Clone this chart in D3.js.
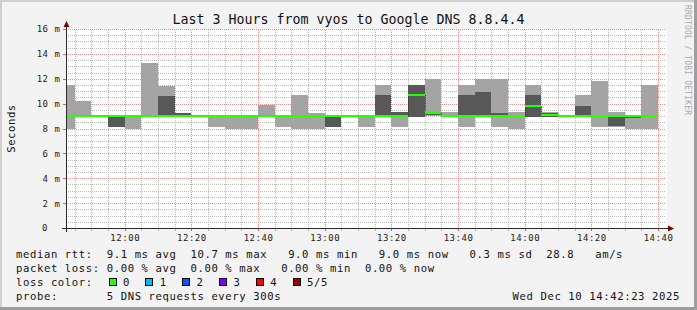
<!DOCTYPE html>
<html>
<head>
<meta charset="utf-8">
<script src="https://cdn.jsdelivr.net/npm/d3@7"></script>
<style>
  html, body { margin: 0; padding: 0; background: #f3f3f3; }
  svg { display: block; }
  text { font-family: "DejaVu Sans Mono", monospace; white-space: pre; }
</style>
</head>
<body>
<svg id="chart" width="697" height="310"></svg>
<script>
// 5 minute slots, labelled by end time (Dec 10 2025)
const slotEnds = ["11:45","11:50","11:55","12:00","12:05","12:10","12:15","12:20","12:25","12:30","12:35","12:40",
  "12:45","12:50","12:55","13:00","13:05","13:10","13:15","13:20","13:25","13:30","13:35","13:40",
  "13:45","13:50","13:55","14:00","14:05","14:10","14:15","14:20","14:25","14:30","14:35","14:40"];

// sorted ping rtt per slot, in ms
const rttMin    = [8.0, 9.0, 9.0, 8.15, 8.0, 9.0, 9.0, 9.0, 9.0, 8.15, 8.0, 8.0,
  9.0, 8.15, 8.0, 8.0, 8.15, 9.0, 8.15, 9.0, 8.15, 8.9, 9.0, 9.0,
  8.15, 9.0, 8.15, 8.0, 8.9, 8.95, 9.0, 9.0, 8.15, 8.15, 8.0, 8.0];
const rtt2      = [9.0, 9.0, 9.0, 8.15, 9.0, 9.0, 9.0, 9.0, 9.0, 9.0, 9.0, 9.0,
  9.0, 9.0, 9.0, 9.0, 8.15, 9.0, 9.0, 9.0, 9.0, 8.95, 9.05, 9.0,
  9.0, 9.0, 9.0, 9.0, 8.95, 8.95, 9.0, 9.0, 9.0, 8.2, 8.85, 9.0];
const rttMedian = [9.0, 9.0, 9.0, 9.0, 9.0, 9.0, 9.0, 9.0, 9.0, 9.0, 9.0, 9.0,
  9.0, 9.0, 9.0, 9.0, 9.0, 9.0, 9.0, 9.0, 9.0, 10.7, 9.3, 9.0,
  9.0, 9.0, 9.0, 9.0, 9.8, 9.1, 9.0, 9.0, 9.0, 9.0, 9.0, 9.0];
const rtt4      = [9.05, 9.05, 9.0, 9.0, 9.0, 9.0, 10.65, 9.25, 9.0, 9.0, 9.0, 9.0,
  9.0, 9.0, 9.0, 9.0, 9.05, 9.0, 9.0, 10.7, 9.3, 11.5, 9.35, 9.0,
  10.7, 10.9, 9.25, 9.0, 10.7, 9.25, 9.0, 9.8, 9.1, 9.05, 9.0, 9.0];
const rttMax    = [11.5, 10.25, 9.1, 9.0, 9.0, 13.3, 11.45, 9.25, 9.0, 9.0, 9.0, 9.0,
  9.85, 9.1, 10.7, 9.25, 9.05, 9.0, 9.0, 11.5, 9.35, 11.5, 12.0, 9.35,
  11.5, 12.0, 12.0, 9.3, 11.5, 9.3, 9.0, 10.7, 11.8, 9.3, 9.0, 11.5];

const yTicks = [0, 2, 4, 6, 8, 10, 12, 14, 16];
const yTickLabels = ["0", "2 m", "4 m", "6 m", "8 m", "10 m", "12 m", "14 m", "16 m"];
const xTickLabels = ["12:00","12:20","12:40","13:00","13:20","13:40","14:00","14:20","14:40"];

const title = "Last 3 Hours from vyos to Google DNS 8.8.4.4";
const legendLines = [
  "median rtt:  9.1 ms avg  10.7 ms max   9.0 ms min   9.0 ms now   0.3 ms sd  28.8   am/s",
  "packet loss: 0.00 % avg  0.00 % max   0.00 % min  0.00 % now",
  "loss color:",
  "probe:       5 DNS requests every 300s"
];
const lossLabels = ["0", "1", "2", "3", "4", "5/5"];
const lossColors = ["#26ff00", "#00b8ff", "#0059ff", "#7e00ff", "#ff0000", "#a00000"];
const stamp = "Wed Dec 10 14:42:23 2025";

const parse = d3.timeParse("%Y-%m-%d %H:%M:%S");
const day = "2025-12-10 ";
const tStart = parse(day + "11:42:23"), tEnd = parse(day + "14:42:23");

const L = 66, R = 666, T = 29, B = 228;
const x = d3.scaleTime().domain([tStart, tEnd]).range([L, R]);
const y = d3.scaleLinear().domain([0, 16]).range([B, T]);

const svg = d3.select("#chart");
const defs = svg.append("defs");

// frame
svg.append("rect").attr("width", 697).attr("height", 310).attr("fill", "#f3f3f3");
svg.append("rect").attr("width", 697).attr("height", 2).attr("fill", "#cfcfcf");
svg.append("rect").attr("width", 2).attr("height", 310).attr("fill", "#cfcfcf");
svg.append("rect").attr("x", 694).attr("width", 3).attr("height", 310).attr("fill", "#9e9e9e");
svg.append("rect").attr("y", 307).attr("width", 697).attr("height", 3).attr("fill", "#9e9e9e");
svg.append("rect").attr("x", L).attr("y", T).attr("width", R - L + 1).attr("height", B - T).attr("fill", "#fff");

defs.append("clipPath").attr("id", "plotclip")
  .append("rect").attr("x", L).attr("y", T - 1).attr("width", R - L).attr("height", B - T + 1);

// dotted patterns (one pixel on, one off) for the grid
function dots(id, col, horiz) {
  const p = defs.append("pattern").attr("id", id).attr("patternUnits", "userSpaceOnUse")
    .attr("width", horiz ? 2 : 1).attr("height", horiz ? 1 : 2);
  p.append("rect").attr("width", 1).attr("height", 1).attr("fill", col);
}
const minorCol = "#bcbcbc", majorCol = "#f09090";
dots("minH", minorCol, true); dots("minV", minorCol, false);
dots("majH", majorCol, true); dots("majV", majorCol, false);

const minorT = d3.timeMinute.every(5).range(tStart, tEnd);
const majorT = minorT.filter(d => d.getMinutes() % 20 === 0);
const minorV = d3.range(0, 16.01, 0.5).filter(v => v % 2 !== 0);

const grid = svg.append("g").attr("class", "grid").attr("shape-rendering", "crispEdges");
function vgrid(cls, data, fill) {
  grid.selectAll("rect." + cls).data(data).join("rect").attr("class", cls)
    .attr("x", d => Math.round(x(d))).attr("width", 1)
    .attr("y", T).attr("height", B - T).attr("fill", fill);
}
function hgrid(cls, data, fill) {
  grid.selectAll("rect." + cls).data(data).join("rect").attr("class", cls)
    .attr("y", d => Math.round(y(d))).attr("height", 1)
    .attr("x", L).attr("width", R - L - 1).attr("fill", fill);
}
vgrid("minorx", minorT.filter(d => d.getMinutes() % 20 !== 0), "url(#minV)");
hgrid("minory", minorV, "url(#minH)");
vgrid("majorx", majorT, "url(#majV)");
hgrid("majory", yTicks.filter(v => v > 0), "url(#majH)");

// smoke
const slots = slotEnds.map((s, i) => {
  const end = parse(day + s + ":00");
  return { start: d3.timeMinute.offset(end, -5), end,
    min: rttMin[i], p2: rtt2[i], med: rttMedian[i], p4: rtt4[i], max: rttMax[i] };
});

const plot = svg.append("g").attr("clip-path", "url(#plotclip)");
const px = d => Math.round(x(d));

plot.append("g").attr("shape-rendering", "crispEdges").selectAll("rect").data(slots).join("rect")
  .attr("x", d => px(d.start)).attr("width", d => px(d.end) - px(d.start))
  .attr("y", d => y(d.max)).attr("height", d => y(d.min) - y(d.max))
  .attr("fill", "#a4a4a4");
plot.append("g").attr("shape-rendering", "crispEdges").selectAll("rect").data(slots).join("rect")
  .attr("x", d => px(d.start)).attr("width", d => px(d.end) - px(d.start))
  .attr("y", d => y(d.p4)).attr("height", d => y(d.p2) - y(d.p4))
  .attr("fill", "#585858");

// median: thin dark step line, then loss-coloured band
const medLine = d3.line().x(d => px(d[0]) + 0.5).y(d => y(d[1]));
plot.append("path")
  .datum(slots.flatMap(d => [[d.start, d.med], [d.end, d.med]]))
  .attr("d", medLine).attr("fill", "none")
  .attr("stroke", "#303030").attr("stroke-width", 1).attr("stroke-dasharray", "1,1");
plot.append("g").attr("shape-rendering", "crispEdges").selectAll("rect").data(slots).join("rect")
  .attr("x", d => px(d.start)).attr("width", d => px(d.end) - px(d.start))
  .attr("y", d => y(d.med) - 1.3).attr("height", 2.6)
  .attr("fill", lossColors[0]);

// ticks beside axes
const ticks = svg.append("g").attr("shape-rendering", "crispEdges");
ticks.selectAll("rect.ty").data(yTicks.filter(v => v > 0)).join("rect").attr("class", "ty")
  .attr("x", L - 3).attr("width", 3).attr("y", d => Math.round(y(d))).attr("height", 1)
  .attr("fill", "#e06060");
ticks.selectAll("rect.tx").data(minorT).join("rect").attr("class", "tx")
  .attr("x", d => px(d)).attr("width", 1).attr("y", B).attr("height", 3)
  .attr("fill", d => d.getMinutes() % 20 === 0 ? "#e06060" : "#b8b8b8");

// axes lines and arrows
const axisCol = "#2c2c2c", arrowCol = "#7f0000";
svg.append("rect").attr("x", L - 4).attr("width", R - L + 8).attr("y", B).attr("height", 1)
  .attr("fill", axisCol).attr("shape-rendering", "crispEdges");
svg.append("rect").attr("x", L).attr("width", 1).attr("y", T - 4).attr("height", B - T + 8)
  .attr("fill", axisCol).attr("shape-rendering", "crispEdges");
svg.append("path").attr("d", `M${R + 2},${B - 2.5}L${R + 8},${B + 0.5}L${R + 2},${B + 3.5}Z`).attr("fill", arrowCol);
svg.append("path").attr("d", `M${L - 2.5},${T - 2}L${L + 0.5},${T - 8}L${L + 3.5},${T - 2}Z`).attr("fill", arrowCol);

// axis labels via d3 axes
const xAxis = d3.axisBottom(x)
  .tickValues(xTickLabels.map(s => parse(day + s + ":00")))
  .tickFormat((d, i) => xTickLabels[i]).tickSize(0).tickPadding(6.6);
const gx = svg.append("g").attr("transform", `translate(0,${B})`).call(xAxis);
gx.select(".domain").remove();
gx.selectAll("text").attr("fill", "#222").style("font-family", '"DejaVu Sans Mono", monospace')
  .style("font-size", "9px").style("letter-spacing", "0.55px");

const yAxis = d3.axisLeft(y).tickValues(yTicks)
  .tickFormat((d, i) => yTickLabels[i]).tickSize(0).tickPadding(5.5);
const gy = svg.append("g").attr("transform", `translate(${L},0)`).call(yAxis);
gy.select(".domain").remove();
gy.selectAll("text").attr("fill", "#222").style("font-family", '"DejaVu Sans Mono", monospace')
  .style("font-size", "9px").style("letter-spacing", "0.55px");
gy.selectAll(".tick").filter(d => d === 0).select("text").attr("x", -18);

// title and side texts
svg.append("text").attr("x", 348.5).attr("y", 24).attr("text-anchor", "middle")
  .style("font-size", "13.3px").attr("fill", "#111").text(title);
svg.append("text").attr("transform", `translate(15,${(T + B) / 2}) rotate(-90)`)
  .attr("text-anchor", "middle").style("font-size", "10.6px").style("letter-spacing", "0.55px")
  .attr("fill", "#111").text("Seconds");
svg.append("text").attr("transform", "translate(684.5,5) rotate(90)")
  .style("font-size", "8px").style("letter-spacing", "0.2px")
  .attr("fill", "#aaaaaa").text("RRDTOOL / TOBI OETIKER");

// legend
const leg = svg.append("g").style("font-size", "10.6px").style("letter-spacing", "0.6px").attr("fill", "#111");
leg.selectAll("text.line").data(legendLines).join("text")
  .attr("x", 16).attr("y", (d, i) => 257.5 + i * 14).attr("xml:space", "preserve").text(d => d);
const boxes = leg.selectAll("g.loss").data(lossLabels).join("g")
  .attr("transform", (d, i) => `translate(${108.5 + i * 36.8},0)`);
boxes.append("rect").attr("x", 0.5).attr("y", 278.5).attr("width", 7).attr("height", 7)
  .attr("fill", (d, i) => lossColors[i]).attr("stroke", "#000").attr("stroke-width", 1)
  .attr("shape-rendering", "crispEdges");
boxes.append("text").attr("x", 14.5).attr("y", 285.5).text(d => d);
leg.append("text").attr("x", 680).attr("y", 299.5).attr("text-anchor", "end").text(stamp);
</script>
</body>
</html>
